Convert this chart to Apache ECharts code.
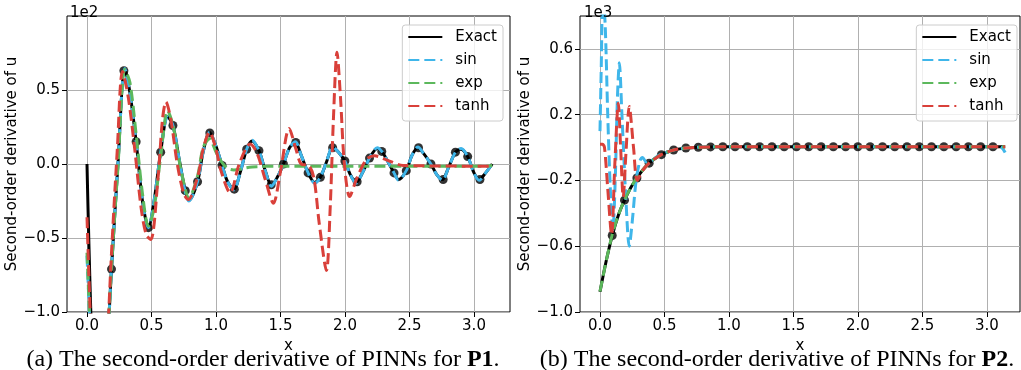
<!DOCTYPE html>
<html>
<head>
<meta charset="utf-8">
<script src="https://cdn.jsdelivr.net/npm/echarts@6/dist/echarts.min.js"></script>
<style>
  html, body { margin: 0; padding: 0; background: #fff; }
  #chart { width: 1021px; height: 370px; }
</style>
</head>
<body>
<div id="chart"></div>
<script>
// tick positions
const xTicks = [0, 0.5, 1, 1.5, 2, 2.5, 3];
const yTicksP1 = [-1, -0.5, 0, 0.5];
const yTicksP2 = [-1, -0.6, -0.2, 0.2, 0.6];

// P1 (left): exact / sin / exp share one x grid, values in units of 1e2
const xP1 = [0, 0.048, 0.095, 0.143, 0.19, 0.24, 0.293, 0.333, 0.381, 0.43, 0.476, 0.52, 0.571, 0.625, 0.667, 0.715,
  0.762, 0.79, 0.857, 0.90, 0.95, 1.0, 1.047, 1.09, 1.138, 1.19, 1.238, 1.28, 1.333, 1.38, 1.43, 1.475, 1.523,
  1.57, 1.615, 1.66, 1.714, 1.765, 1.809, 1.855, 1.904, 1.95, 1.999, 2.04, 2.085, 2.135, 2.19, 2.25, 2.285, 2.33,
  2.38, 2.415, 2.475, 2.52, 2.565, 2.61, 2.666, 2.71, 2.755, 2.80, 2.856, 2.9, 2.951, 3.0, 3.04, 3.09, 3.141];
const exactP1 = [0.0, -1.45, -1.9, -1.45, -0.71, 0.0, 0.645, 0.48, 0.15, -0.25, -0.43, -0.25, 0.08, 0.32, 0.26, 0.03,
  -0.18, -0.245, -0.12, 0.08, 0.215, 0.12, -0.01, -0.12, -0.172, -0.05, 0.10, 0.155, 0.09, -0.04, -0.145, -0.09, 0.0,
  0.11, 0.145, 0.06, -0.06, -0.125, -0.09, 0.01, 0.11, 0.08, 0.02, -0.07, -0.125, -0.06, 0.04, 0.105, 0.085, 0.02,
  -0.06, -0.105, -0.045, 0.06, 0.11, 0.07, 0.0, -0.07, -0.105, -0.03, 0.08, 0.1, 0.05, -0.06, -0.105, -0.06, 0.0];
const sinP1 = [-0.62, -1.5, -1.9, -1.45, -0.71, 0.0, 0.645, 0.48, 0.15, -0.25, -0.43, -0.25, 0.08, 0.32, 0.26, 0.03,
  -0.19, -0.25, -0.12, 0.08, 0.215, 0.12, -0.01, -0.12, -0.175, -0.05, 0.10, 0.16, 0.09, -0.04, -0.15, -0.09, 0.0,
  0.11, 0.15, 0.06, -0.06, -0.13, -0.09, 0.01, 0.115, 0.08, 0.02, -0.07, -0.13, -0.06, 0.04, 0.11, 0.085, 0.02,
  -0.06, -0.11, -0.045, 0.06, 0.115, 0.07, 0.0, -0.07, -0.11, -0.03, 0.08, 0.105, 0.05, -0.06, -0.11, -0.06, 0.0];
const expP1 = [-0.6, -1.5, -1.9, -1.45, -0.7, -0.02, 0.64, 0.55, 0.2, -0.2, -0.42, -0.3, 0.05, 0.36, 0.26, 0.02,
  -0.17, -0.23, -0.08, 0.11, 0.17, 0.08, 0.01, -0.03, -0.04, -0.035, -0.025, -0.02, -0.018, -0.016, -0.015, -0.015, -0.015,
  -0.015, -0.015, -0.015, -0.015, -0.015, -0.015, -0.015, -0.015, -0.015, -0.015, -0.015, -0.015, -0.015, -0.015, -0.015, -0.015, -0.015,
  -0.015, -0.015, -0.015, -0.015, -0.015, -0.015, -0.015, -0.015, -0.015, -0.015, -0.015, -0.015, -0.015, -0.015, -0.015, -0.015, -0.01];
const tanhP1 = [[0, -0.36], [0.048, -1.5], [0.095, -2.0], [0.14, -1.5], [0.19, -0.6], [0.235, 0.1], [0.275, 0.625],
  [0.32, 0.45], [0.37, 0.1], [0.42, -0.3], [0.46, -0.48], [0.495, -0.51], [0.55, -0.1], [0.585, 0.3], [0.612, 0.42],
  [0.65, 0.3], [0.70, 0.0], [0.75, -0.2], [0.785, -0.24], [0.86, -0.08], [0.90, 0.1], [0.95, 0.215], [1.0, 0.1],
  [1.04, -0.05], [1.11, -0.195], [1.18, 0.0], [1.265, 0.135], [1.32, 0.07], [1.38, -0.1], [1.445, -0.265], [1.50, -0.05],
  [1.567, 0.24], [1.62, 0.1], [1.66, 0.0], [1.72, -0.01], [1.76, -0.1], [1.80, -0.4], [1.856, -0.72], [1.885, -0.3],
  [1.91, 0.3], [1.938, 0.755], [1.965, 0.45], [1.995, 0.0], [2.036, -0.22], [2.09, -0.1], [2.165, 0.03], [2.23, 0.055],
  [2.33, 0.025], [2.45, -0.01], [3.141, -0.015]];

// black markers on the exact curve (same x for both panels)
const dotX = [0.095, 0.19, 0.286, 0.381, 0.476, 0.571, 0.666, 0.762, 0.857, 0.952, 1.047, 1.142, 1.238, 1.333, 1.428, 1.523,
  1.618, 1.714, 1.809, 1.904, 1.999, 2.094, 2.19, 2.285, 2.38, 2.475, 2.57, 2.666, 2.761, 2.856, 2.951, 3.046];
const dotP1 = [-1.9, -0.71, 0.63, 0.15, -0.43, 0.08, 0.26, -0.18, -0.12, 0.21, -0.01, -0.17, 0.10, 0.09, -0.14, 0.0,
  0.145, -0.06, -0.09, 0.11, 0.02, -0.12, 0.04, 0.085, -0.06, -0.045, 0.11, 0.0, -0.105, 0.08, 0.05, -0.105];
const dotP2 = [-0.535, -0.32, -0.185, -0.095, -0.043, -0.015, -0.003, 0.002, 0.004, 0.005, 0.005, 0.005, 0.005, 0.005, 0.005, 0.005,
  0.005, 0.005, 0.005, 0.005, 0.005, 0.005, 0.005, 0.005, 0.005, 0.005, 0.005, 0.005, 0.005, 0.005, 0.005, 0.005];

// P2 (right), values in units of 1e3
const exactP2 = [[0, -0.877], [0.048, -0.69], [0.095, -0.535], [0.143, -0.41], [0.19, -0.32], [0.238, -0.245],
  [0.286, -0.185], [0.333, -0.135], [0.381, -0.095], [0.429, -0.065], [0.476, -0.043], [0.524, -0.027], [0.571, -0.015],
  [0.667, -0.003], [0.762, 0.002], [0.857, 0.004], [1.0, 0.005], [3.141, 0.005]];
const expP2 = [[0, -0.875], [0.048, -0.69], [0.095, -0.53], [0.143, -0.41], [0.19, -0.318], [0.238, -0.245],
  [0.286, -0.183], [0.333, -0.135], [0.381, -0.094], [0.429, -0.065], [0.476, -0.043], [0.524, -0.027], [0.571, -0.015],
  [0.667, -0.003], [0.762, 0.002], [0.857, 0.004], [1.0, 0.005], [3.141, 0.005]];
const sinP2 = [[0, 0.1], [0.01, 0.5], [0.022, 0.95], [0.04, 0.75], [0.06, 0.2], [0.08, -0.25], [0.1, -0.5], [0.118, -0.2],
  [0.135, 0.3], [0.15, 0.515], [0.17, 0.2], [0.2, -0.3], [0.227, -0.6], [0.25, -0.45], [0.28, -0.2], [0.31, -0.08],
  [0.33, -0.06], [0.36, -0.09], [0.40, -0.08], [0.45, -0.05], [0.5, -0.033], [0.571, -0.015], [0.667, -0.003],
  [0.762, 0.002], [1.0, 0.005], [3.1, 0.005], [3.141, -0.03]];
const tanhP2 = [[0, 0.02], [0.02, 0.02], [0.035, 0.0], [0.06, -0.25], [0.09, -0.53], [0.115, -0.1], [0.142, 0.27],
  [0.16, 0.0], [0.18, -0.3], [0.2, -0.05], [0.227, 0.25], [0.26, 0.0], [0.289, -0.2], [0.33, -0.14], [0.381, -0.095],
  [0.476, -0.043], [0.571, -0.015], [0.667, -0.003], [0.762, 0.002], [1.0, 0.005], [3.141, 0.005]];

const legendNames = ['Exact', 'sin', 'exp', 'tanh'];
const colors = { Exact: '#000000', sin: '#3fb6ea', exp: '#5cb85c', tanh: '#d9403a' };
const font = 'DejaVu Sans';
const serif = 'Liberation Serif';

const zip = (xs, ys) => xs.map((x, i) => [x, ys[i]]);
const num = v => (v < 0 ? '\u2212' : '') + Math.abs(v).toFixed(1);

function line(name, data, gi, z) {
  return {
    name, type: 'line', data, xAxisIndex: gi, yAxisIndex: gi, z,
    smooth: 0.3, symbol: 'none', showSymbol: false, clip: true,
    lineStyle: { color: colors[name], width: 3, type: name === 'Exact' ? 'solid' : [11, 5] },
    itemStyle: { color: colors[name] },
  };
}
function dots(data, gi) {
  return {
    name: 'dots', type: 'scatter', data, xAxisIndex: gi, yAxisIndex: gi, z: 3, clip: true,
    symbolSize: 9, itemStyle: { color: '#000' },
  };
}
function xAxis(gi, max) {
  return {
    gridIndex: gi, type: 'value', min: -0.155, max, splitNumber: 7,
    name: 'x', nameLocation: 'middle', nameGap: 22,
    nameTextStyle: { color: '#000', fontFamily: font, fontSize: 15 },
    axisLine: { show: false, onZero: false },
    axisTick: { show: true, length: 5, customValues: xTicks, lineStyle: { color: '#000' } },
    axisLabel: {
      color: '#000', fontFamily: font, fontSize: 15, margin: 7, customValues: xTicks,
      formatter: v => num(v),
    },
    splitLine: { show: true, lineStyle: { color: '#b0b0b0', width: 1 } },
  };
}
function yAxis(gi, min, max, interval, ticks) {
  return {
    gridIndex: gi, type: 'value', min, max, interval,
    name: 'Second-order derivative of u', nameLocation: 'middle', nameGap: 45,
    nameTextStyle: { color: '#000', fontFamily: font, fontSize: 15 },
    axisLine: { show: false, onZero: false },
    axisTick: { show: true, length: 5, customValues: ticks, lineStyle: { color: '#000' } },
    axisLabel: {
      color: '#000', fontFamily: font, fontSize: 15, margin: 7, customValues: ticks,
      formatter: v => num(v),
    },
    splitLine: { show: true, lineStyle: { color: '#b0b0b0', width: 1 } },
  };
}
function legend(right) {
  return {
    data: legendNames, orient: 'vertical', right, top: 25,
    itemWidth: 34, itemHeight: 14, itemGap: 7,
    itemStyle: { opacity: 0 },
    padding: [4, 6, 7, 5], borderColor: '#cccccc', borderWidth: 1, borderRadius: 3,
    backgroundColor: 'rgba(255,255,255,0.8)',
    textStyle: { color: '#000', fontFamily: font, fontSize: 15, lineHeight: 16, padding: [0, 0, 0, 8] },
  };
}
function caption(text, center) {
  return {
    text, left: center, textAlign: 'center', top: 343,
    textStyle: {
      fontFamily: serif, fontSize: 24, fontWeight: 'normal', color: '#000',
      rich: { b: { fontFamily: serif, fontSize: 24, fontWeight: 'bold', color: '#000' } },
    },
  };
}

const chart = echarts.init(document.getElementById('chart'));
chart.setOption({
  animation: false,
  backgroundColor: '#fff',
  title: [
    { text: '1e2', left: 65, top: 1, textStyle: { fontFamily: font, fontSize: 15, fontWeight: 'normal', color: '#000' } },
    { text: '1e3', left: 579, top: 1, textStyle: { fontFamily: font, fontSize: 15, fontWeight: 'normal', color: '#000' } },
    caption('(a) The second-order derivative of PINNs for {b|P1}.', 258),
    caption('(b) The second-order derivative of PINNs for {b|P2}.', 772),
  ],
  legend: [legend(518), legend(4)],
  grid: [
    { left: 67, top: 16, width: 443, height: 296, show: true, borderColor: '#000', borderWidth: 1, backgroundColor: 'transparent' },
    { left: 580, top: 16, width: 440, height: 296, show: true, borderColor: '#000', borderWidth: 1, backgroundColor: 'transparent' },
  ],
  xAxis: [xAxis(0, 3.279), xAxis(1, 3.256)],
  yAxis: [
    yAxis(0, -1, 1, 0.5, yTicksP1),
    yAxis(1, -1, 0.8, 0.4, yTicksP2),
  ],
  series: [
    line('Exact', zip(xP1, exactP1), 0, 2),
    dots(zip(dotX, dotP1), 0),
    line('sin', zip(xP1, sinP1), 0, 4),
    line('exp', zip(xP1, expP1), 0, 5),
    line('tanh', tanhP1, 0, 6),
    line('Exact', exactP2, 1, 2),
    dots(zip(dotX, dotP2), 1),
    line('sin', sinP2, 1, 4),
    line('exp', expP2, 1, 5),
    line('tanh', tanhP2, 1, 6),
  ],
});
</script>
</body>
</html>
